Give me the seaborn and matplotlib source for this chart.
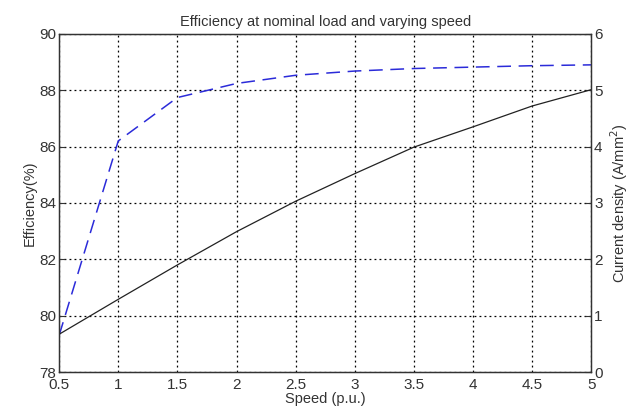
import pandas as pd
import seaborn as sns
import matplotlib
matplotlib.use("Agg")
import matplotlib.pyplot as plt

# values
speed = [0.5, 1.0, 1.5, 2.0, 2.5, 3.0, 3.5, 4.0, 4.5, 5.0]
efficiency = [79.3, 86.2, 87.74, 88.24, 88.53, 88.68, 88.77, 88.82, 88.87, 88.9]
current_density = [0.67, 1.29, 1.90, 2.49, 3.03, 3.52, 3.99, 4.35, 4.72, 5.01]

df = pd.DataFrame({"speed": speed, "eff": efficiency, "cd": current_density})

sns.set_style("white")
plt.rcParams["font.family"] = ["Liberation Sans", "DejaVu Sans"]
plt.rcParams["xtick.direction"] = "in"
plt.rcParams["ytick.direction"] = "in"

fig = plt.figure(figsize=(6.29, 4.18), dpi=100)
ax = fig.add_axes([0.094, 0.11, 0.846, 0.809])
ax2 = ax.twinx()

sns.lineplot(data=df, x="speed", y="eff", ax=ax, color="#2b2bd9", lw=1.1)
ax.lines[0].set_dashes([9, 5])
sns.lineplot(data=df, x="speed", y="cd", ax=ax2, color="#222222", lw=0.9)

ax.set_xlim(0.5, 5)
ax.set_ylim(78, 90)
ax2.set_ylim(0, 6)
ax.set_xticks([0.5, 1, 1.5, 2, 2.5, 3, 3.5, 4, 4.5, 5])
ax.set_xticklabels(["0.5", "1", "1.5", "2", "2.5", "3", "3.5", "4", "4.5", "5"])
ax.set_yticks(range(78, 91, 2))
ax2.set_yticks(range(0, 7))

ax.grid(True, color="black", linestyle=(0, (1.5, 2.5)), lw=0.9)
for a in (ax, ax2):
    for s in a.spines.values():
        s.set_color("#333333")
        s.set_linewidth(0.9)
    a.tick_params(labelsize=11, colors="#333333", length=4, width=0.8, pad=2)
ax.tick_params(axis="x", pad=4)

ax.set_xlabel("Speed (p.u.)", fontsize=10.5, labelpad=0, color="#333333")
ax.set_ylabel("Efficiency(%)", fontsize=10.5, labelpad=2, color="#333333")
ax2.set_ylabel("Current density (A/mm$^2$)", fontsize=10.5, labelpad=4, color="#333333")
ax.set_title("Efficiency at nominal load and varying speed", fontsize=10.5, pad=6, color="#333333")

fig.savefig("out.png", dpi=100)
